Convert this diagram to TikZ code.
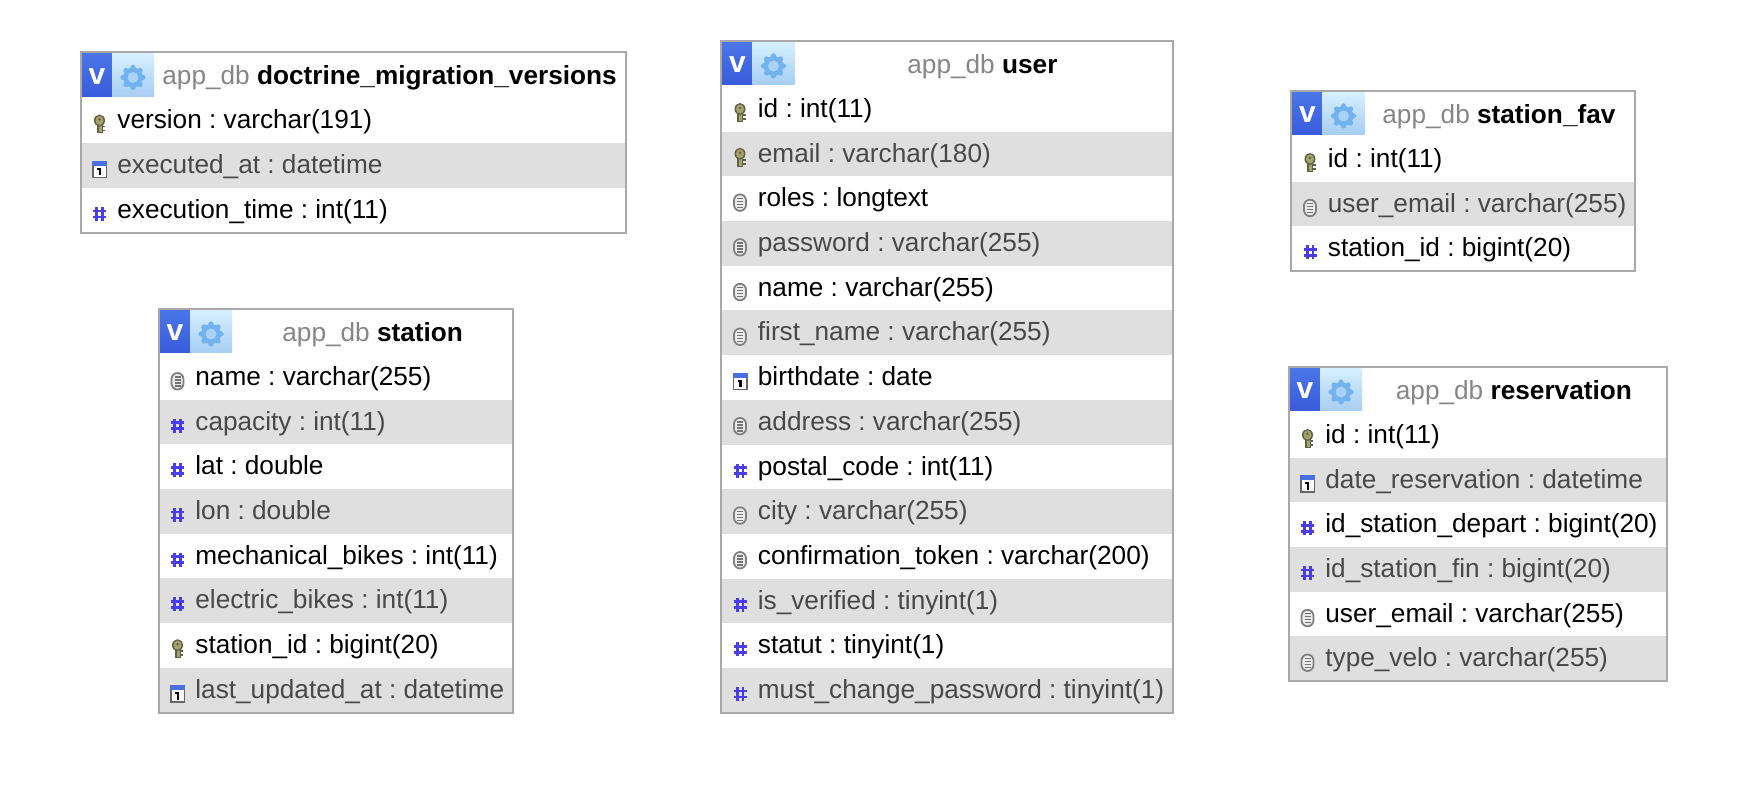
\documentclass[tikz,border=0pt]{standalone}
\usepackage{fontspec}
\setmainfont{Liberation Sans}
\frenchspacing
\definecolor{rowgrey}{HTML}{DFDFDF}
\definecolor{framegrey}{HTML}{A9A9A9}
\definecolor{dbgrey}{HTML}{868686}
\definecolor{shadetext}{HTML}{484848}
\definecolor{hashblue}{HTML}{4A3CEB}
\definecolor{keyolive}{HTML}{A3A36A}
\definecolor{keydark}{HTML}{5F6048}
\definecolor{vtop}{HTML}{4A76E8}
\definecolor{vbottom}{HTML}{3A5BDC}
\definecolor{geartop}{HTML}{D6F0FF}
\definecolor{gearbottom}{HTML}{A6CDF3}
\definecolor{gearblue}{HTML}{72B2EE}
\definecolor{gearlight}{HTML}{A8D2F8}
\definecolor{calblue}{HTML}{4A6FE0}
\tikzset{
	frame/.style={draw=framegrey, line width=1pt},
	celltext/.style={anchor=base west, inner sep=0pt, font=\fontsize{13.1}{15}\selectfont},
	pics/keyicon/.style={code={
		\fill[keydark] (-3,-2) rectangle (3,9);
		\fill[keyolive] (-1,-2) rectangle (2,8);
		\fill[keydark] (0,-4) ellipse (5.5 and 6);
		\fill[keyolive] (0,-4) ellipse (4 and 4.5);
		\fill[keydark] (0,-5) circle (1.4);
		\draw[keydark, line width=0.9pt] (3,2) -- (5.5,2) (3,6) -- (5.5,6);
	}},
	pics/dateicon/.style={code={
		\fill[black!60] (-7.5,-8.5) rectangle (7.5,9);
		\fill[white] (-6,-4) rectangle (6,7.5);
		\fill[calblue] (-7.5,-8.5) rectangle (7.5,-3.5);
		\fill[black] (-1,-1.5) rectangle (1.5,6);
		\fill[black] (-2.5,-1.5) rectangle (0,0.5);
	}},
	pics/hashicon/.style={code={
		\draw[hashblue, line width=1.3pt] (-2.8,-7) -- (-2.8,7) (2.8,-7) -- (2.8,7) (-6.5,-3) -- (6.5,-3) (-6.5,3) -- (6.5,3);
	}},
	pics/texticon/.style={code={
		\draw[black!50, fill=black!8, line width=0.9pt, rounded corners=3pt] (-6,-8) rectangle (6,8.5);
		\foreach \ly in {-4,-1,2,5}
			\draw[black!55, line width=0.7pt] (-3,\ly) -- (3,\ly);
	}}
}
% #1 name, #2 left, #3 top, #4 right, #5 title x, #6 title, #7 rows
\newcommand{\dbtable}[7]{
	\foreach \ic/\txt [count=\i from 0] in {#7}{
		\pgfmathsetmacro{\rowtop}{#3+46+44.7*\i}
		\pgfmathtruncatemacro{\shaded}{mod(\i,2)}
		\ifnum\shaded=1
			\fill[rowgrey] (#2,\rowtop) rectangle (#4,\rowtop+44.7);
			\def\rowcol{shadetext}
		\else
			\def\rowcol{black}
		\fi
		\pic at (#2+19,\rowtop+26) {\ic};
		\node[celltext, text=\rowcol] (#1-\i) at (#2+36.5,\rowtop+30.5) {\txt};
		\xdef\lastrow{\rowtop}
	}
	% header
	\shade[top color=vtop, bottom color=vbottom] (#2+1,#3+1) rectangle (#2+31.5,#3+44);
	\shade[top color=geartop, bottom color=gearbottom] (#2+31.5,#3+1) rectangle (#2+73.5,#3+44);
	\node[inner sep=0pt, text=white, font=\bfseries\fontsize{15}{15}\selectfont] (#1-v) at (#2+16.5,#3+24) {v};
	\foreach \a in {0,45,...,315}
		\fill[gearblue] (#2+52.5,#3+25)+(\a:10) circle (2.6);
	\fill[gearblue] (#2+52.5,#3+25) circle (10);
	\fill[gearlight] (#2+52.5,#3+25) circle (5.5);
	\node[celltext] (#1-title) at (#5,#3+32.5) {\textcolor{dbgrey}{app\_db} \textbf{#6}};
	\draw[frame] (#2,#3) rectangle (#4,\lastrow+44.7);
}
\begin{document}
\begin{tikzpicture}[x=0.5pt, y=-0.5pt]
	\useasboundingbox (0,0) rectangle (1752,790);
	\fill[white] (0,0) rectangle (1752,790);

	\dbtable{versions}{80.5}{52.5}{626}{162}{doctrine\_migration\_versions}{
		keyicon/version : varchar(191),
		dateicon/executed\_at : datetime,
		hashicon/execution\_time : int(11)}

	\dbtable{station}{158.5}{309}{513}{282}{station}{
		texticon/name : varchar(255),
		hashicon/capacity : int(11),
		hashicon/lat : double,
		hashicon/lon : double,
		hashicon/mechanical\_bikes : int(11),
		hashicon/electric\_bikes : int(11),
		keyicon/station\_id : bigint(20),
		dateicon/last\_updated\_at : datetime}

	\dbtable{user}{721}{41}{1173}{907}{user}{
		keyicon/id : int(11),
		keyicon/email : varchar(180),
		texticon/roles : longtext,
		texticon/password : varchar(255),
		texticon/name : varchar(255),
		texticon/first\_name : varchar(255),
		dateicon/birthdate : date,
		texticon/address : varchar(255),
		hashicon/postal\_code : int(11),
		texticon/city : varchar(255),
		texticon/confirmation\_token : varchar(200),
		hashicon/is\_verified : tinyint(1),
		hashicon/statut : tinyint(1),
		hashicon/must\_change\_password : tinyint(1)}

	\dbtable{fav}{1291}{91}{1635}{1382}{station\_fav}{
		keyicon/id : int(11),
		texticon/user\_email : varchar(255),
		hashicon/station\_id : bigint(20)}

	\dbtable{reservation}{1288.5}{367}{1667}{1395.5}{reservation}{
		keyicon/id : int(11),
		dateicon/date\_reservation : datetime,
		hashicon/id\_station\_depart : bigint(20),
		hashicon/id\_station\_fin : bigint(20),
		texticon/user\_email : varchar(255),
		texticon/type\_velo : varchar(255)}
\end{tikzpicture}
\end{document}
